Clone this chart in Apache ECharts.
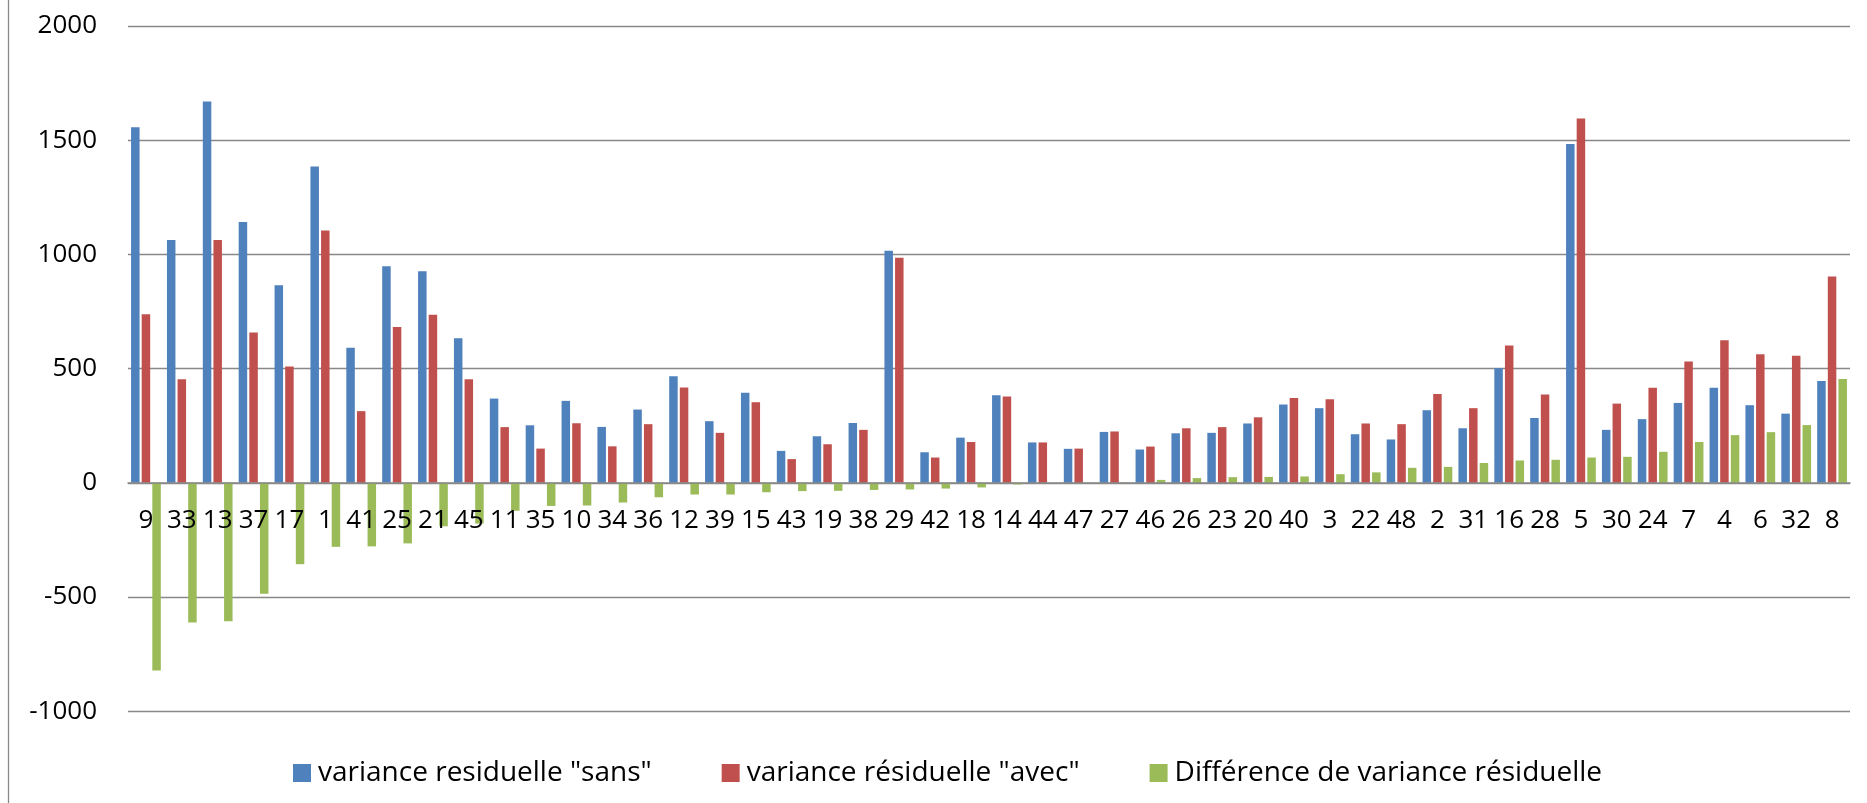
<!DOCTYPE html>
<html>
<head>
<meta charset="utf-8">
<script src="https://cdn.jsdelivr.net/npm/echarts@6/dist/echarts.min.js"></script>
<style>
html,body{margin:0;padding:0;background:#fff;}
#chart{width:1867px;height:803px;}
</style>
</head>
<body>
<div id="chart"></div>
<script>
var categories = ['9','33','13','37','17','1','41','25','21','45','11','35','10','34','36','12','39','15','43','19','38','29','42','18','14','44','47','27','46','26','23','20','40','3','22','48','2','31','16','28','5','30','24','7','4','6','32','8'];

var sans = [1557,1063,1670,1142,865,1385,592,948,926,633,369,252,359,245,321,467,270,394,140,204,262,1016,134,198,384,177,149,223,146,217,219,260,343,327,213,190,318,239,502,284,1483,232,279,350,416,340,303,446];

var avec = [738,454,1063,658,509,1105,314,682,736,454,244,150,261,160,257,417,219,353,104,169,232,986,111,179,378,177,150,225,159,239,244,287,372,366,260,257,389,327,601,387,1595,347,416,531,624,563,557,903];

var difference = [-821,-611,-606,-485,-356,-280,-278,-265,-190,-178,-122,-101,-99,-86,-63,-51,-51,-41,-36,-35,-31,-29,-25,-20,-7,0,1,2,13,21,25,26,28,38,46,66,70,87,98,101,111,114,136,179,209,222,253,455];

var seriesNames = ['variance residuelle "sans"', 'variance résiduelle "avec"', 'Différence de variance résiduelle'];
var yTicks = {min: -1000, max: 2000, interval: 500};

var FONT = "'Open Sans', 'Noto Sans', sans-serif";
var chart = echarts.init(document.getElementById('chart'), null, {renderer: 'canvas'});
var colors = ['#4F81BD', '#C0504D', '#9BBB59'];
var datas = [sans, avec, difference];

var gridTop = 26, gridBottom = 91.7;
var plotH = 803 - gridTop - gridBottom;
// distance from the bottom of the plot to the zero line, in pixels
var zeroOffset = plotH * (0 - yTicks.min) / (yTicks.max - yTicks.min);

chart.setOption({
  animation: false,
  backgroundColor: '#ffffff',
  color: colors,
  grid: {left: 128, right: 17, top: gridTop, bottom: gridBottom, containLabel: false},
  legend: {
    data: seriesNames,
    left: 288,
    top: 754,
    icon: 'rect',
    itemWidth: 18,
    itemHeight: 18,
    itemGap: 70,
    textStyle: {fontFamily: FONT, fontSize: 28, color: '#000', padding: [0, 0, 0, 2]}
  },
  xAxis: {
    type: 'category',
    data: categories,
    offset: -zeroOffset,
    z: 5,
    axisLine: {onZero: false, lineStyle: {color: '#888888', width: 1.5}},
    axisTick: {show: false},
    axisLabel: {fontFamily: FONT, fontSize: 26, color: '#000', margin: 25, interval: 0}
  },
  yAxis: {
    type: 'value',
    min: yTicks.min,
    max: yTicks.max,
    interval: yTicks.interval,
    axisLine: {show: false},
    axisTick: {show: false},
    splitLine: {lineStyle: {color: '#888888', width: 1.3}},
    axisLabel: {fontFamily: FONT, fontSize: 26, color: '#000', margin: 31,
      formatter: function (v) { return String(v); }}
  },
  graphic: [{
    type: 'line',
    shape: {x1: 8.5, y1: 0, x2: 8.5, y2: 803},
    style: {stroke: '#888888', lineWidth: 1.3}
  }],
  series: seriesNames.map(function (n, i) {
    return {
      name: n,
      type: 'bar',
      data: datas[i],
      barWidth: 8.5,
      barGap: '25%',
      z: 2,
      itemStyle: {color: colors[i]}
    };
  })
});
</script>
</body>
</html>
